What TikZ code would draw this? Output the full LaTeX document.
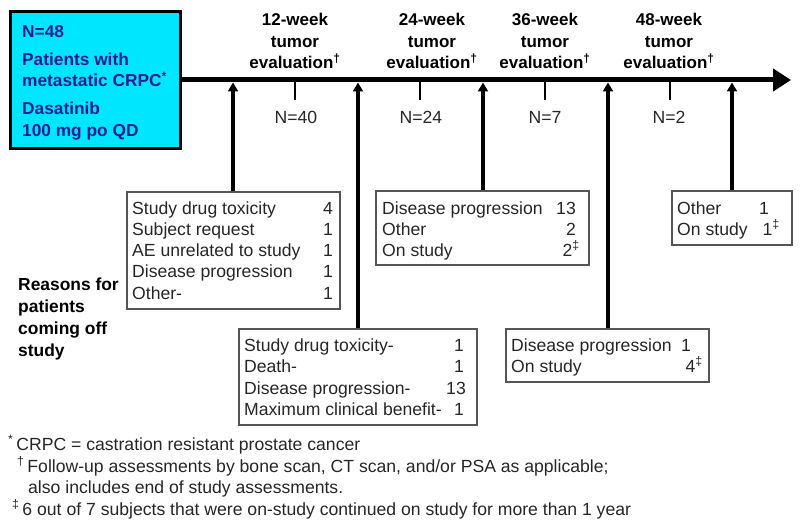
\documentclass[tikz,border=0pt]{standalone}
\usepackage{fontspec}
\setmainfont{Liberation Sans}
\usetikzlibrary{arrows.meta}
\definecolor{boxcyan}{HTML}{00E6FF}
\definecolor{boxtext}{HTML}{141E96}
\definecolor{frame}{HTML}{555555}
\tikzset{
  bluebox/.style={draw=black, line width=3pt, fill=boxcyan, minimum width=170pt, minimum height=136pt, inner sep=0pt},
  bluetxt/.style={anchor=base west, inner sep=0pt, font=\fontsize{17.3}{19}\selectfont\bfseries, text=boxtext},
  timeline/.style={line width=5pt, -{Triangle[length=18pt,width=22pt]}},
  uparrow/.style={line width=3.2pt, -{Triangle[length=9pt,width=10pt]}},
  tick/.style={line width=2.5pt},
  reasonbox/.style={draw=frame, line width=1.3pt, inner sep=0pt},
  rowtxt/.style={anchor=base west, inner sep=0pt, font=\fontsize{17.6}{19}\selectfont, text=black!85},
  numtxt/.style={anchor=base east, inner sep=0pt, font=\fontsize{17.6}{19}\selectfont, text=black!85},
  evaltxt/.style={align=center, inner sep=0pt, font=\fontsize{17}{21.5}\selectfont\bfseries, anchor=base},
  ntxt/.style={inner sep=0pt, font=\fontsize{17.6}{19}\selectfont, anchor=base, text=black!85},
  sidetxt/.style={anchor=base west, inner sep=0pt, align=left, font=\fontsize{17.4}{22}\selectfont\bfseries},
  foottxt/.style={anchor=base west, inner sep=0pt, font=\fontsize{17.6}{19}\selectfont, text=black!85},
}
\begin{document}
\begin{tikzpicture}[x=1pt,y=-1pt]
\useasboundingbox (0,0) rectangle (800,532);
% start box
\node[bluebox] (start) at (95,80) {};
\node[bluetxt] (s1) at (22,38) {N=48};
\node[bluetxt] (s2) at (22,66) {Patients with};
\node[bluetxt] (s3) at (22,87) {metastatic CRPC\textsuperscript{*}};
\node[bluetxt] (s4) at (22,115) {Dasatinib};
\node[bluetxt] (s5) at (22,136) {100 mg po QD};
% timeline
\coordinate (tlend) at (791,80);
\draw[timeline] (start.east) -- (tlend);
% evaluation labels (anchor base = last line)
\node[evaltxt] (e1) at (295,69) {12-week\\tumor\\evaluation\textsuperscript{†}};
\node[evaltxt] (e2) at (432,69) {24-week\\tumor\\evaluation\textsuperscript{†}};
\node[evaltxt] (e3) at (545,69) {36-week\\tumor\\evaluation\textsuperscript{†}};
\node[evaltxt] (e4) at (669,69) {48-week\\tumor\\evaluation\textsuperscript{†}};
% ticks
\foreach \x/\n in {295/k1,420/k2,545/k3,670/k4}{
  \coordinate (\n) at (\x,80);
  \coordinate (\n b) at (\x,100);
  \draw[tick] (\n) -- (\n b);
}
\node[ntxt] (n1) at (296,124) {N=40};
\node[ntxt] (n2) at (421,124) {N=24};
\node[ntxt] (n3) at (545,124) {N=7};
\node[ntxt] (n4) at (669,124) {N=2};
% arrow targets on timeline
\coordinate (t1) at (233,82.5);
\coordinate (t2) at (358,82.5);
\coordinate (t3) at (483,82.5);
\coordinate (t4) at (608,82.5);
\coordinate (t5) at (732,82.5);
% box 1
\node[reasonbox, minimum width=213pt, minimum height=117pt] (b1) at (233.5,250.5) {};
\node[rowtxt] at (132,214) {Study drug toxicity};
\node[numtxt] at (333,214) {4};
\node[rowtxt] at (132,235) {Subject request};
\node[numtxt] at (333,235) {1};
\node[rowtxt] at (132,256) {AE unrelated to study};
\node[numtxt] at (333,256) {1};
\node[rowtxt] at (132,277) {Disease progression};
\node[numtxt] at (333,277) {1};
\node[rowtxt] at (132,299) {Other-};
\node[numtxt] at (333,299) {1};
% box 2
\node[reasonbox, minimum width=238pt, minimum height=96pt] (b2) at (358,377) {};
\node[rowtxt] at (244,351) {Study drug toxicity-};
\node[numtxt] at (464,351) {1};
\node[rowtxt] at (244,372) {Death-};
\node[numtxt] at (464,372) {1};
\node[rowtxt] at (244,394) {Disease progression-};
\node[numtxt] at (466,394) {13};
\node[rowtxt] at (244,415) {Maximum clinical benefit-};
\node[numtxt] at (464,415) {1};
% box 3
\node[reasonbox, minimum width=213pt, minimum height=74pt] (b3) at (482.5,228) {};
\node[rowtxt] at (382,214) {Disease progression};
\node[numtxt] at (576,214) {13};
\node[rowtxt] at (382,235) {Other};
\node[numtxt] at (576,235) {2};
\node[rowtxt] at (382,256) {On study};
\node[numtxt] at (580,256) {2\textsuperscript{‡}};
% box 4
\node[reasonbox, minimum width=203pt, minimum height=53pt] (b4) at (607.5,355.5) {};
\node[rowtxt] at (511,351) {Disease progression};
\node[numtxt] at (691,351) {1};
\node[rowtxt] at (511,372) {On study};
\node[numtxt] at (703,372) {4\textsuperscript{‡}};
% box 5
\node[reasonbox, minimum width=120pt, minimum height=54pt] (b5) at (732,218) {};
\node[rowtxt] at (677,214) {Other};
\node[numtxt] at (769,214) {1};
\node[rowtxt] at (677,235) {On study};
\node[numtxt] at (780,235) {1\textsuperscript{‡}};
% arrows up
\draw[uparrow] (b1.north -| t1) -- (t1);
\draw[uparrow] (b2.north -| t2) -- (t2);
\draw[uparrow] (b3.north -| t3) -- (t3);
\draw[uparrow] (b4.north -| t4) -- (t4);
\draw[uparrow] (b5.north -| t5) -- (t5);
% side label (anchor base = last line)
\node[sidetxt] (side) at (18,356) {Reasons for\\patients\\coming off\\study};
% footnotes
\node[foottxt] (f1) at (8,450) {\textsuperscript{*}\,CRPC = castration resistant prostate cancer};
\node[foottxt] (f2) at (17,472) {\textsuperscript{†}\,Follow-up assessments by bone scan, CT scan, and/or PSA as applicable;};
\node[foottxt] (f3) at (28,493) {also includes end of study assessments.};
\node[foottxt] (f4) at (12,515) {\textsuperscript{‡}\,6 out of 7 subjects that were on-study continued on study for more than 1 year};
\end{tikzpicture}
\end{document}
